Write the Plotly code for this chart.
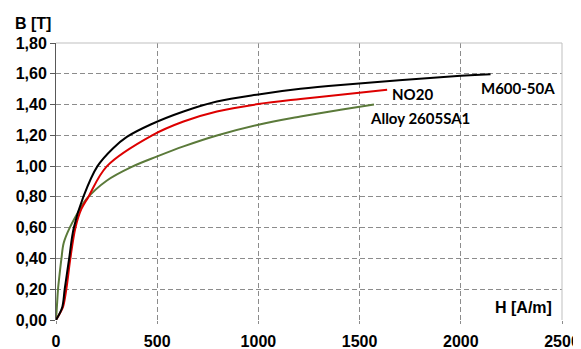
import plotly.graph_objects as go

# M600-50A (black)
h_m600 = [0, 30, 43, 65, 88, 135, 205, 281, 350, 465, 630, 795, 1000, 1208, 1406, 2000, 2147]
b_m600 = [0, 0.08, 0.20, 0.40, 0.60, 0.80, 1.00, 1.115, 1.19, 1.269, 1.355, 1.42, 1.466, 1.502, 1.527, 1.587, 1.597]

# NO20 (red)
h_no20 = [0, 20, 35, 51, 71, 96, 125, 160, 252, 475, 630, 795, 1000, 1208, 1406, 1636]
b_no20 = [0, 0.045, 0.087, 0.20, 0.40, 0.60, 0.72, 0.80, 1.00, 1.20, 1.29, 1.355, 1.403, 1.436, 1.464, 1.496]

# Alloy 2605SA1 (green)
h_alloy = [0, 5, 10, 18, 27, 38, 68, 118, 150, 250, 374, 500, 630, 795, 1000, 1208, 1406, 1571]
b_alloy = [0, 0.10, 0.20, 0.30, 0.40, 0.50, 0.60, 0.72, 0.785, 0.905, 0.995, 1.063, 1.128, 1.199, 1.269, 1.322, 1.366, 1.40]

x_ticks = [0, 500, 1000, 1500, 2000, 2500]
y_ticks = [0, 0.2, 0.4, 0.6, 0.8, 1.0, 1.2, 1.4, 1.6, 1.8]
y_tick_text = ["0,00", "0,20", "0,40", "0,60", "0,80", "1,00", "1,20", "1,40", "1,60", "1,80"]

fig = go.Figure()
fig.add_trace(go.Scatter(x=h_alloy, y=b_alloy, mode="lines",
                         line=dict(color="#5b7a3a", width=2, shape="spline", smoothing=1.0)))
fig.add_trace(go.Scatter(x=h_no20, y=b_no20, mode="lines",
                         line=dict(color="#dd0000", width=2, shape="spline", smoothing=1.0)))
fig.add_trace(go.Scatter(x=h_m600, y=b_m600, mode="lines",
                         line=dict(color="#000000", width=2, shape="spline", smoothing=1.0)))

lab_font = dict(family="Lato", size=15, color="#000000", weight="bold")
fig.add_annotation(x=2283, y=1.51, text="M600-50A", showarrow=False, font=lab_font)
fig.add_annotation(x=1761, y=1.47, text="NO20", showarrow=False, font=lab_font)
fig.add_annotation(x=1798, y=1.314, text="Alloy 2605SA1", showarrow=False, font=lab_font)

title_font = dict(family="Liberation Sans", size=16, color="#000000", weight="bold")
fig.add_annotation(x=(13 - 56) / 506, y=(320 - 23.5) / 277, xref="paper", yref="paper",
                   xanchor="left", yanchor="middle",
                   text="B [T]", showarrow=False, font=title_font)
fig.add_annotation(x=2462, y=0.081, xanchor="right", yanchor="middle",
                   text="H [A/m]", showarrow=False, font=title_font)

# top and right borders (solid light gray)
fig.add_shape(type="line", xref="paper", yref="paper", x0=0, x1=1, y0=1, y1=1,
              line=dict(color="#bfbfbf", width=1))
fig.add_shape(type="line", xref="paper", yref="paper", x0=1, x1=1, y0=0, y1=1,
              line=dict(color="#bfbfbf", width=1))

# page has an 8px body margin, so the figure is sized/offset to compensate
fig.update_layout(
    width=573, height=341,
    margin=dict(l=48, r=19, t=35, b=29, autoexpand=False),
    paper_bgcolor="white", plot_bgcolor="white",
    showlegend=False,
)
fig.update_xaxes(range=[0, 2500], tickvals=x_ticks, ticktext=[str(v) for v in x_ticks],
                 automargin=False,
                 showgrid=True, gridcolor="#8c8c8c", griddash="5px,3px", gridwidth=1,
                 zeroline=False, showline=False, ticks="outside", ticklen=3, tickcolor="#8c8c8c",
                 tickfont=dict(family="Liberation Sans", size=16, color="#000000", weight="bold"),
                 ticklabelstandoff=4)
fig.update_yaxes(range=[0, 1.8], tickvals=y_ticks, ticktext=y_tick_text,
                 automargin=False,
                 showgrid=True, gridcolor="#8c8c8c", griddash="5px,3px", gridwidth=1,
                 zeroline=False, showline=True, linecolor="#595959", linewidth=1,
                 ticks="outside", ticklen=5, tickcolor="#595959",
                 tickfont=dict(family="Liberation Sans", size=16, color="#000000", weight="bold"))

fig.write_html("out.html")
